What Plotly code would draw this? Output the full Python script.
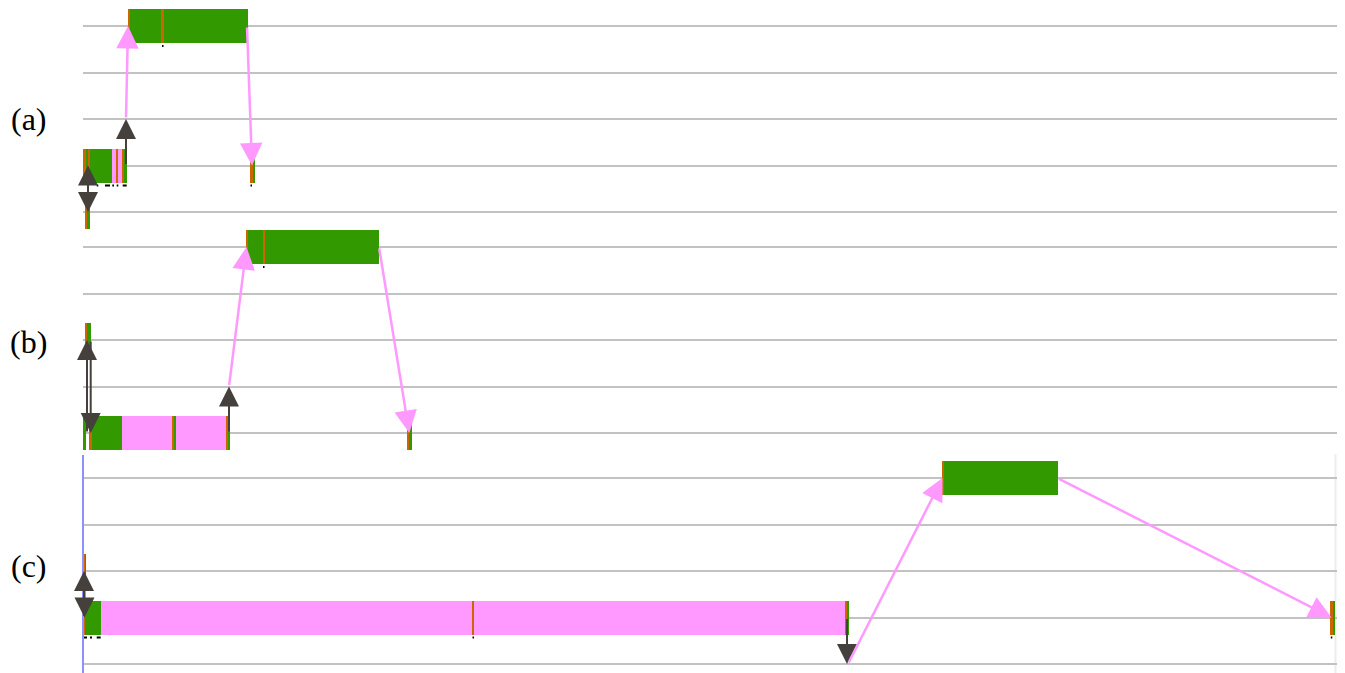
import plotly.graph_objects as go

# ---------------------------------------------------------------------------
# Trace timelines of three runs.  Time is in ticks from the start of each
# window, rows are process ranks 0..4 (rank 0 on top).
# ---------------------------------------------------------------------------

ranks = [0, 1, 2, 3, 4]
panel_labels = ["(a)", "(b)", "(c)"]

# state codes: "run" = computing, "wait" = blocked, "evt" = event marker
# ---- run (a) ----
a_seg_rank  = [0, 0, 0, 0, 3, 3, 3, 3, 3, 3, 3, 3, 3, 3, 3, 4, 4]
a_seg_start = [44.5, 46.5, 78.7, 80.5, 0.3, 2.7, 4.7, 7.0, 28.7, 32.7, 34.7, 39.3, 41.3, 167.0, 169.7, 2.0, 4.3]
a_seg_end   = [46.5, 78.7, 80.5, 165.3, 2.7, 4.7, 7.0, 28.7, 32.7, 34.7, 39.3, 41.3, 43.7, 169.7, 172.0, 4.3, 7.0]
a_seg_state = ["evt", "run", "evt", "run", "evt", "run", "evt", "run", "wait", "evt", "wait", "evt", "run",
               "evt", "run", "evt", "run"]
a_tick_rank  = [0, 3, 3, 3, 3, 3, 3]
a_tick_start = [79.0, 13.7, 22.0, 29.3, 33.7, 39.7, 167.5]
a_tick_end   = [80.5, 15.3, 27.0, 31.0, 35.3, 43.7, 169.0]
a_msg_t0    = [5.0, 5.0, 43.0, 43.0, 164.0]
a_msg_rank0 = [4, 3, 3, 2, 0]
a_msg_t1    = [5.0, 5.0, 43.0, 45.0, 169.0]
a_msg_rank1 = [3, 4, 2, 0, 3]
a_msg_kind  = ["sync", "sync", "sync", "send", "send"]

# ---- run (b) ----
b_seg_rank  = [0, 0, 0, 0, 2, 2, 4, 4, 4, 4, 4, 4, 4, 4, 4, 4, 4]
b_seg_start = [162.7, 164.7, 179.7, 181.7, 2.0, 4.3, 0.0, 6.0, 8.7, 38.7, 88.7, 90.7, 93.0, 143.0, 145.0, 324.3, 326.3]
b_seg_end   = [164.7, 179.7, 181.7, 296.3, 4.3, 7.7, 3.0, 8.7, 38.7, 88.7, 90.7, 93.0, 143.0, 145.0, 147.0, 326.3, 328.7]
b_seg_state = ["evt", "run", "evt", "run", "evt", "run", "run", "evt", "run", "wait", "evt", "run", "wait",
               "evt", "run", "evt", "run"]
b_tick_rank  = [0, 4, 4, 4, 4, 4, 4, 4]
b_tick_start = [180.0, 0.3, 6.3, 17.7, 30.3, 91.3, 143.7, 325.5]
b_tick_end   = [181.5, 3.7, 8.7, 19.3, 37.0, 93.0, 145.0, 327.0]
b_msg_t0    = [4.0, 7.7, 146.0, 146.0, 296.0]
b_msg_rank0 = [4, 2, 4, 3, 0]
b_msg_t1    = [4.0, 7.7, 146.0, 163.5, 326.3]
b_msg_rank1 = [2, 4, 3, 0, 4]
b_msg_kind  = ["sync", "sync", "sync", "send", "send"]

# ---- run (c) ----
c_seg_rank  = [0, 0, 2, 2, 3, 3, 3, 3, 3, 3, 3, 3, 3]
c_seg_start = [858.7, 861.0, 0.0, 1.3, 0.0, 2.0, 18.0, 389.0, 391.0, 762.0, 763.7, 1247.3, 1249.7]
c_seg_end   = [861.0, 975.3, 1.3, 2.7, 2.0, 18.0, 389.0, 391.0, 762.0, 763.7, 766.0, 1249.7, 1252.0]
c_seg_state = ["evt", "run", "evt", "run", "evt", "run", "wait", "evt", "wait", "evt", "run", "evt", "run"]
c_tick_rank  = [3, 3, 3, 3, 3, 3]
c_tick_start = [0.0, 7.0, 13.7, 389.5, 763.0, 1247.8]
c_tick_end   = [4.0, 9.0, 17.7, 391.0, 764.5, 1249.3]
c_msg_t0    = [1.0, 1.5, 764.0, 765.0, 974.5]
c_msg_rank0 = [3, 2, 3, 4, 0]
c_msg_t1    = [1.0, 1.5, 764.0, 859.5, 1248.5]
c_msg_rank1 = [2, 3, 4, 0, 3]
c_msg_kind  = ["sync", "sync", "sync", "send", "send"]

window_start = 0.0
window_end = 1254.0
c_window_edge = 1252.5

# ---------------------------------------------------------------------------
W, H = 1345, 673
STATE_COLOR = {"run": "#339900", "wait": "#ff99ff", "evt": "#cc6600"}
STATE_ORDER = ["run", "wait", "evt"]
MSG_COLOR = {"sync": "#45403b", "send": "#ff99ff"}
MSG_WIDTH = {"sync": 2, "send": 2.5}
MSG_HEAD = {"sync": 2.0, "send": 1.8}
GRID = "#c2c2c2"
BAR_H = 0.731
TICK_OFF = 0.43

# vertical pixel bands of the three panels and the pixel row of rank 0
bands = [(0, 230, 26), (230, 451, 247), (452, 673, 478)]
ROW_PX = 46.5
X_DOMAIN = [83 / W, 1337 / W]

panels = [
    (a_seg_rank, a_seg_start, a_seg_end, a_seg_state, a_tick_rank, a_tick_start, a_tick_end,
     a_msg_t0, a_msg_rank0, a_msg_t1, a_msg_rank1, a_msg_kind),
    (b_seg_rank, b_seg_start, b_seg_end, b_seg_state, b_tick_rank, b_tick_start, b_tick_end,
     b_msg_t0, b_msg_rank0, b_msg_t1, b_msg_rank1, b_msg_kind),
    (c_seg_rank, c_seg_start, c_seg_end, c_seg_state, c_tick_rank, c_tick_start, c_tick_end,
     c_msg_t0, c_msg_rank0, c_msg_t1, c_msg_rank1, c_msg_kind),
]

fig = go.Figure()
annotations = []
shapes = []
layout_axes = {}

for i, (seg_r, seg_s, seg_e, seg_st, tk_r, tk_s, tk_e, m_t0, m_r0, m_t1, m_r1, m_k) in enumerate(panels):
    n = "" if i == 0 else str(i + 1)
    xa, ya = "x" + n, "y" + n
    top_px, bot_px, r0_px = bands[i]
    y_top = (top_px - r0_px) / ROW_PX
    y_bot = (bot_px - r0_px) / ROW_PX

    layout_axes["xaxis" + n] = dict(domain=X_DOMAIN, range=[window_start, window_end], visible=False,
                                    anchor=ya, fixedrange=True)
    layout_axes["yaxis" + n] = dict(domain=[1 - bot_px / H, 1 - top_px / H], range=[y_bot, y_top],
                                    anchor=xa, tickvals=ranks, showticklabels=False, ticks="",
                                    showgrid=True, gridcolor=GRID, gridwidth=2, zeroline=False,
                                    showline=False, fixedrange=True)

    # state bars, one trace per state
    for st in STATE_ORDER:
        idx = [k for k, s in enumerate(seg_st) if s == st]
        if not idx:
            continue
        fig.add_trace(go.Bar(
            orientation="h",
            y=[seg_r[k] for k in idx],
            base=[seg_s[k] for k in idx],
            x=[seg_e[k] - seg_s[k] for k in idx],
            width=BAR_H,
            marker=dict(color=STATE_COLOR[st], line=dict(width=0)),
            xaxis=xa, yaxis=ya, hoverinfo="skip", showlegend=False,
        ))

    # small event ticks under the bars
    tx, ty = [], []
    for r, s, e in zip(tk_r, tk_s, tk_e):
        tx += [s, e, None]
        ty += [r + TICK_OFF, r + TICK_OFF, None]
    fig.add_trace(go.Scatter(x=tx, y=ty, mode="lines", line=dict(color="black", width=2),
                             xaxis=xa, yaxis=ya, hoverinfo="skip", showlegend=False, cliponaxis=False))

    # messages / synchronisations
    for t0, r0, t1, r1, k in zip(m_t0, m_r0, m_t1, m_r1, m_k):
        annotations.append(dict(
            x=t1, y=r1, ax=t0, ay=r0, xref=xa, yref=ya, axref=xa, ayref=ya,
            text="", showarrow=True, arrowhead=2, arrowsize=MSG_HEAD[k], arrowwidth=MSG_WIDTH[k],
            arrowcolor=MSG_COLOR[k], standoff=0, startstandoff=0,
        ))

    # panel label
    annotations.append(dict(
        x=29 / W, y=1 - [119, 342, 566][i] / H, xref="paper", yref="paper",
        text=panel_labels[i], showarrow=False, xanchor="center", yanchor="middle",
        font=dict(family="Liberation Serif", size=32, color="black"),
    ))

# window edges of run (c): left edge drawn on the paper so it is not clipped
c_dom = layout_axes["yaxis3"]["domain"]
shapes.append(dict(type="line", xref="paper", yref="paper", x0=X_DOMAIN[0], x1=X_DOMAIN[0],
                   y0=0, y1=c_dom[1] - 3 / H, line=dict(color="#8f8fff", width=2), layer="above"))
shapes.append(dict(type="line", xref="x3", yref="y3 domain", x0=c_window_edge, x1=c_window_edge,
                   y0=0, y1=0.99, line=dict(color="#ececec", width=2), layer="below"))

fig.update_layout(
    width=W, height=H,
    margin=dict(l=0, r=0, t=0, b=0),
    paper_bgcolor="white", plot_bgcolor="white",
    barmode="overlay", bargap=0,
    showlegend=False,
    annotations=annotations,
    shapes=shapes,
    **layout_axes,
)

fig.write_html("out.html")
